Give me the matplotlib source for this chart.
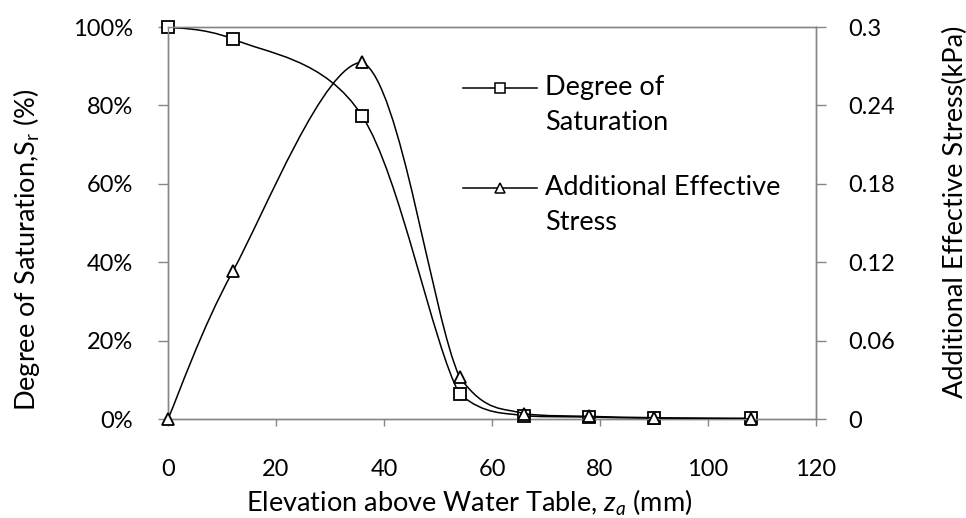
import numpy as np
import matplotlib
matplotlib.use('Agg')
import matplotlib.pyplot as plt
from matplotlib.path import Path
from matplotlib.patches import PathPatch
from matplotlib.lines import Line2D

plt.rcParams['font.family'] = ['Lato', 'DejaVu Sans']
plt.rcParams['mathtext.fontset'] = 'custom'
plt.rcParams['mathtext.rm'] = 'Lato'
plt.rcParams['mathtext.it'] = 'Lato:italic'

# data
elevation = [0, 12, 36, 54, 66, 78, 90, 108]
saturation = [100, 97, 77.2, 6.3, 0.8, 0.5, 0.2, 0.2]
add_stress = [0.0, 0.113, 0.273, 0.032, 0.004, 0.002, 0.001, 0.0]

sat_ticks = [0, 20, 40, 60, 80, 100]
stress_ticks = [0, 0.06, 0.12, 0.18, 0.24, 0.3]
stress_labels = ['0', '0.06', '0.12', '0.18', '0.24', '0.3']
x_ticks = [0, 20, 40, 60, 80, 100, 120]

AXIS_GREY = '#868686'
W, H = 966, 518


def smooth_path(x, y):
    # smoothed line like a spreadsheet chart: cubic bezier through each point,
    # control points kept inside each segment's y-range to avoid overshoot
    pts = np.column_stack([np.asarray(x, float), np.asarray(y, float)])
    n = len(pts)
    verts = [pts[0]]
    codes = [Path.MOVETO]
    for i in range(n - 1):
        p0 = pts[i - 1] if i > 0 else pts[i]
        p1 = pts[i]
        p2 = pts[i + 1]
        p3 = pts[i + 2] if i + 2 < n else pts[i + 1]
        c1 = p1 + (p2 - p0) / 6.0
        c2 = p2 - (p3 - p1) / 6.0
        lo, hi = min(p1[1], p2[1]), max(p1[1], p2[1])
        c1[1] = np.clip(c1[1], lo, hi)
        c2[1] = np.clip(c2[1], lo, hi)
        verts += [c1, c2, p2]
        codes += [Path.CURVE4] * 3
    return Path(verts, codes)


def px(x, y):
    # pixel position (from top-left) -> figure fraction
    return x / W, 1 - y / H


fig = plt.figure(figsize=(W / 100, H / 100), dpi=100)
ax = fig.add_axes([168 / W, 1 - 419 / H, 648 / W, 392 / H])
ax2 = ax.twinx()

ax.add_patch(PathPatch(smooth_path(elevation, saturation), fill=False,
                       edgecolor='black', lw=1.1, zorder=3))
ax.plot(elevation, saturation, linestyle='none', marker='s', ms=9,
        mfc='white', mec='black', mew=1.3, zorder=4, clip_on=False)

ax2.add_patch(PathPatch(smooth_path(elevation, add_stress), fill=False,
                        edgecolor='black', lw=1.1, zorder=3))
ax2.plot(elevation, add_stress, linestyle='none', marker='^', ms=8,
         mfc='white', mec='black', mew=1.3, zorder=4, clip_on=False)

ax.set_xlim(0, 120)
ax.set_ylim(0, 100)
ax2.set_ylim(0, 0.3)
ax.set_xticks(x_ticks)
ax.set_yticks(sat_ticks)
ax.set_yticklabels([f'{v}%' for v in sat_ticks])
ax2.set_yticks(stress_ticks)
ax2.set_yticklabels(stress_labels)

for a in (ax, ax2):
    for s in a.spines.values():
        s.set_color(AXIS_GREY)
        s.set_linewidth(1.0)
    a.tick_params(colors=AXIS_GREY, labelcolor='black', labelsize=17,
                  width=1.0, direction='out')
ax.tick_params(axis='x', length=5, pad=24)
ax.tick_params(axis='y', length=7, pad=18)
ax2.tick_params(axis='y', length=7.5, pad=16)

fig.text(*px(469, 503), r'Elevation above Water Table, $z_a$ (mm)',
         fontsize=19.5, ha='center', va='center')
fig.text(*px(27, 250), r'Degree of Saturation,$\mathregular{S_r}$ (%)',
         fontsize=19.5, ha='center', va='center', rotation=90)
fig.text(*px(955, 212), 'Additional Effective Stress(kPa)',
         fontsize=19.5, ha='center', va='center', rotation=90)

# legend: handle sits on the first line of each two-line label
legend_items = [
    ('s', ['Degree of', 'Saturation'], 88),
    ('^', ['Additional Effective', 'Stress'], 188),
]
for marker, lines, y0 in legend_items:
    (x1, yf), (x2, _) = px(463, y0), px(537, y0)
    fig.add_artist(Line2D([x1, x2], [yf, yf], color='black', lw=1.1,
                          transform=fig.transFigure))
    fig.add_artist(Line2D([(x1 + x2) / 2], [yf], marker=marker, ms=6.5,
                          mfc='white', mec='black', mew=1.1, linestyle='none',
                          transform=fig.transFigure))
    for k, line in enumerate(lines):
        fig.text(*px(545, y0 + 35 * k), line, fontsize=19.5,
                 ha='left', va='center')

fig.savefig('out.png', dpi=100)
